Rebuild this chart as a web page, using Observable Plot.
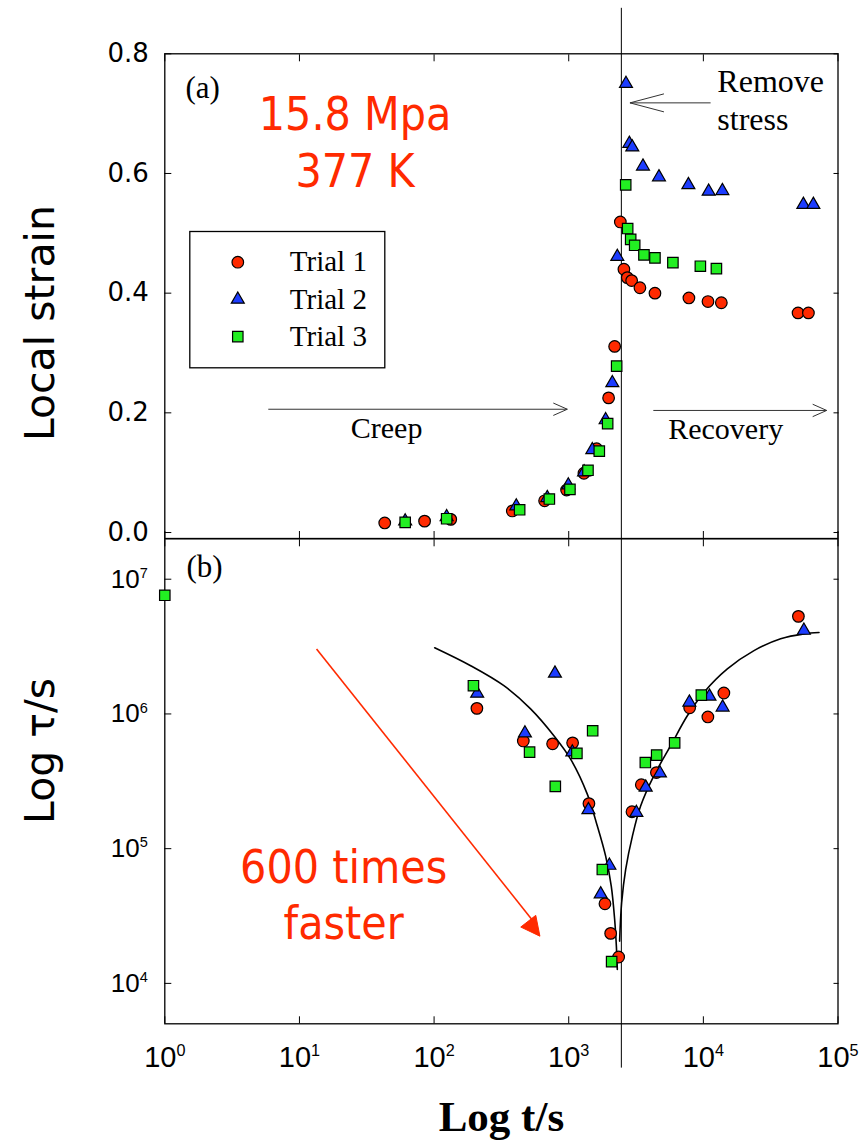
<!DOCTYPE html>
<html><head><meta charset="utf-8">
<script src="https://cdn.jsdelivr.net/npm/d3@7"></script>
<script src="https://cdn.jsdelivr.net/npm/@observablehq/plot@0.6"></script>
<style>
html,body{margin:0;padding:0;background:#fff;}
#chart{position:relative;width:863px;height:1142px;overflow:hidden;background:#fff;}
#chart svg{position:absolute;left:0;overflow:visible;}
</style></head><body><div id="chart"></div>
<script>
// ---------- data ----------
const xTicks = [1, 10, 100, 1000, 10000, 100000];
const strainTicks = [0, 0.2, 0.4, 0.6, 0.8];
const tauTicks = [1e4, 1e5, 1e6, 1e7];
const seriesNames = ["Trial 1", "Trial 2", "Trial 3"];
const removeStressT = 2460;

// (a) local strain vs time
const t1StrainTime = [43, 85, 133, 381, 662, 964, 1297, 1611, 1978, 2193, 2417, 2570, 2723, 2933, 3380, 4370, 7810, 10820, 13600, 50500, 60300];
const t1Strain     = [0.016, 0.019, 0.022, 0.036, 0.053, 0.071, 0.099, 0.140, 0.225, 0.311, 0.519, 0.440, 0.426, 0.421, 0.409, 0.400, 0.392, 0.386, 0.384, 0.367, 0.367];
const t2StrainTime = [61, 124, 408, 693, 993, 1300, 1497, 1880, 2108, 2296, 2663, 2820, 2966, 3560, 4680, 7740, 10950, 13840, 55300, 65600];
const t2Strain     = [0.019, 0.026, 0.044, 0.058, 0.079, 0.101, 0.138, 0.188, 0.250, 0.461, 0.750, 0.650, 0.644, 0.612, 0.594, 0.581, 0.570, 0.571, 0.548, 0.548];
const t3StrainTime = [61, 124, 432, 718, 1021, 1390, 1687, 1946, 2270, 2650, 2740, 2885, 3090, 3620, 4370, 5940, 9500, 12500];
const t3Strain     = [0.017, 0.023, 0.038, 0.056, 0.072, 0.104, 0.136, 0.182, 0.278, 0.581, 0.508, 0.490, 0.480, 0.464, 0.459, 0.451, 0.445, 0.441];

// (b) relaxation time vs time
const t1TauTime = [208, 460, 759, 1069, 1413, 1858, 2049, 2349, 2950, 3460, 4480, 7910, 10800, 14200, 50800];
const t1Tau     = [1.10e6, 6.3e5, 6.0e5, 6.1e5, 2.16e5, 3.9e4, 2.35e4, 1.57e4, 1.88e5, 2.98e5, 3.67e5, 1.11e6, 9.5e5, 1.43e6, 5.3e6];
const t2TauTime = [209, 473, 790, 1064, 1400, 1727, 2005, 3180, 3730, 4760, 7870, 11100, 13900, 55800];
const t2Tau     = [1.42e6, 7.2e5, 2.0e6, 5.2e5, 1.94e5, 4.6e4, 7.5e4, 1.85e5, 2.85e5, 3.63e5, 1.22e6, 1.35e6, 1.12e6, 4.16e6];
const t3TauTime = [1, 196, 512, 795, 1150, 1506, 1777, 2083, 3707, 4500, 6120, 9660];
const t3Tau     = [7.6e6, 1.62e6, 5.2e5, 2.9e5, 5.1e5, 7.5e5, 7.0e4, 1.45e4, 4.36e5, 4.95e5, 6.1e5, 1.38e6];

// fitted curves
const fitLeftTime  = [101, 187, 330, 521, 776, 1033, 1374, 1629, 1879, 2070, 2193, 2259, 2296];
const fitLeftTau   = [3.10e6, 2.28e6, 1.62e6, 1.09e6, 6.89e5, 4.62e5, 2.54e5, 1.48e5, 8.83e4, 5.28e4, 2.99e4, 1.89e4, 1.27e4];
const fitRightTime = [2388, 2472, 2649, 2972, 3420, 4295, 5715, 7603, 10090, 15070, 23770, 37500, 55850, 72280];
const fitRightTau  = [2.06e4, 3.97e4, 7.03e4, 1.24e5, 2.07e5, 3.48e5, 5.81e5, 9.70e5, 1.445e6, 2.16e6, 2.95e6, 3.61e6, 3.93e6, 4.02e6];

// ---------- helpers ----------
const rows = (t, v) => t.map((d, i) => ({t: d, v: v[i]}));
const RED = "#ff2a00", BLUE = "#1c3cff", GREEN = "#22ee22";
const styles = [
  {symbol: "circle", fill: RED, r: 5.8},
  {symbol: "triangle", fill: BLUE, r: 4.8},
  {symbol: "square", fill: GREEN, r: 5.9}
];
const SERIF = "'Liberation Serif', 'Times New Roman', serif";
const SANS = "'DejaVu Sans', Verdana, sans-serif";
const CSANS = "'DejaVu Sans Condensed', 'DejaVu Sans', sans-serif";
const ARIAL = "'Liberation Sans', Arial, sans-serif";
const SUP = "⁰¹²³⁴⁵⁶⁷⁸⁹";
const pow10 = d => "10" + String(Math.round(Math.log10(d))).split("").map(c => SUP[+c]).join("");
function head(angleDeg, len, half, closed) {
  const a = angleDeg * Math.PI / 180, ux = Math.cos(a), uy = Math.sin(a), px = -uy, py = ux;
  return {draw(ctx) {
    const bx = -ux * len, by = -uy * len;
    ctx.moveTo(bx + px * half, by + py * half);
    ctx.lineTo(0, 0);
    ctx.lineTo(bx - px * half, by - py * half);
    if (closed) ctx.closePath();
  }};
}
const dotOpts = i => ({x: "t", y: "v", ...styles[i], stroke: "#000", strokeWidth: 1.2});
// render "10⁷"-style tick labels as 10 + raised exponent tspan
function supify(svg) {
  d3.select(svg).selectAll("text").each(function () {
    const m = /^10([⁰¹²³⁴⁵⁶⁷⁸⁹]+)$/.exec(this.textContent);
    if (!m) return;
    const exp = m[1].split("").map(c => SUP.indexOf(c)).join("");
    const sel = d3.select(this);
    sel.text(null);
    sel.append("tspan").text("10");
    sel.append("tspan").attr("font-size", "0.56em").attr("dy", "-0.66em").text(exp);
  });
}

// ---------- panel (a) ----------
const W = 863, ML = 164.3, MR = 25.5;
const topPlot = Plot.plot({
  width: W, height: 538,
  marginTop: 53.3, marginBottom: 0, marginLeft: ML, marginRight: MR,
  x: {type: "log", domain: [1, 1e5]},
  y: {type: "linear", domain: [-0.01, 0.8]},
  style: {fontFamily: SANS, fontSize: "26px", color: "#000", background: "transparent", overflow: "visible"},
  marks: [
    Plot.ruleX([removeStressT], {y1: -0.01, y2: 0.876, stroke: "#000", strokeWidth: 1}),
    Plot.frame({stroke: "#000", strokeWidth: 1.3}),
    Plot.axisY({ticks: strainTicks, tickSize: -7, tickPadding: 23, tickFormat: d3.format(".1f"), label: null, fontSize: 26, fontFamily: SANS}),
    Plot.axisY({anchor: "right", ticks: strainTicks, tickSize: -5, tickFormat: () => "", label: null}),
    Plot.axisX({anchor: "top", ticks: xTicks, tickSize: -7, tickFormat: () => "", label: null}),
    Plot.axisX({anchor: "bottom", ticks: xTicks, tickSize: -7, tickFormat: () => "", label: null}),
    // creep / recovery / remove-stress arrows
    Plot.link({length: 1}, {x1: 5.87, x2: 976, y1: 0.206, y2: 0.206, stroke: "#333", strokeWidth: 1}),
    Plot.dot({length: 1}, {x: 976, y: 0.206, symbol: head(0, 14, 6.2, false), fill: "none", stroke: "#333", strokeWidth: 1}),
    Plot.link({length: 1}, {x1: 4250, x2: 82400, y1: 0.204, y2: 0.204, stroke: "#333", strokeWidth: 1}),
    Plot.dot({length: 1}, {x: 82400, y: 0.204, symbol: head(0, 14, 6.2, false), fill: "none", stroke: "#333", strokeWidth: 1}),
    Plot.link({length: 1}, {x1: 11320, x2: 2850, y1: 0.718, y2: 0.718, stroke: "#333", strokeWidth: 1}),
    Plot.dot({length: 1}, {x: 2850, y: 0.718, symbol: head(180, 34, 9, false), fill: "none", stroke: "#333", strokeWidth: 1}),
    // texts
    Plot.text(["(a)"], {x: 1.425, y: 0.726, text: d => d, textAnchor: "start", lineAnchor: "bottom", fontFamily: SERIF, fontSize: 31}),
    Plot.text(["15.8 Mpa"], {x: 25.9, y: 0.672, text: d => d, lineAnchor: "bottom", fill: RED, fontFamily: CSANS, fontSize: 46}),
    Plot.text(["377 K"], {x: 25.9, y: 0.577, text: d => d, lineAnchor: "bottom", fill: RED, fontFamily: CSANS, fontSize: 46}),
    Plot.text(["Remove"], {x: 12700, y: 0.736, text: d => d, textAnchor: "start", lineAnchor: "bottom", fontFamily: SERIF, fontSize: 32}),
    Plot.text(["stress"], {x: 12700, y: 0.672, text: d => d, textAnchor: "start", lineAnchor: "bottom", fontFamily: SERIF, fontSize: 32}),
    Plot.text(["Creep"], {x: 44.4, y: 0.1575, text: d => d, lineAnchor: "bottom", fontFamily: SERIF, fontSize: 30}),
    Plot.text(["Recovery"], {x: 14650, y: 0.1558, text: d => d, lineAnchor: "bottom", fontFamily: SERIF, fontSize: 30}),
    Plot.text(["Local strain"], {frameAnchor: "left", y: 0.35, dx: -111.3, rotate: -90, text: d => d, textAnchor: "middle", lineAnchor: "bottom", fontFamily: SANS, fontSize: 41}),
    // legend
    Plot.frame({insetLeft: 25, insetTop: 177.7, insetRight: 453.2, insetBottom: 170.7, stroke: "#000", strokeWidth: 1.3}),
    ...seriesNames.flatMap((name, i) => [
      Plot.dot({length: 1}, {frameAnchor: "top-left", dx: 73, dy: 208.4 + i * 37.2, ...styles[i], stroke: "#000", strokeWidth: 1.2}),
      Plot.text([name], {frameAnchor: "top-left", dx: 125, dy: 208.4 + i * 37.2, text: d => d, textAnchor: "start", lineAnchor: "middle", fontFamily: SERIF, fontSize: 29})
    ]),
    // data
    Plot.dot(rows(t1StrainTime, t1Strain), dotOpts(0)),
    Plot.dot(rows(t2StrainTime, t2Strain), dotOpts(1)),
    Plot.dot(rows(t3StrainTime, t3Strain), dotOpts(2))
  ]
});

// ---------- panel (b) ----------
const botPlot = Plot.plot({
  width: W, height: 604,
  marginTop: 0.3, marginBottom: 118.7, marginLeft: ML, marginRight: MR,
  x: {type: "log", domain: [1, 1e5]},
  y: {type: "log", domain: [10 ** 3.7, 10 ** 7.3]},
  style: {fontFamily: ARIAL, fontSize: "26px", color: "#000", background: "transparent", overflow: "visible"},
  marks: [
    Plot.ruleX([removeStressT], {y1: 2350, y2: 10 ** 7.3, stroke: "#000", strokeWidth: 1}),
    Plot.frame({stroke: "#000", strokeWidth: 1.3}),
    Plot.axisY({ticks: tauTicks, tickSize: -7, tickPadding: 24, tickFormat: pow10, label: null, fontSize: 26, fontFamily: ARIAL}),
    Plot.axisY({anchor: "right", ticks: tauTicks, tickSize: -5, tickFormat: () => "", label: null}),
    Plot.axisX({anchor: "bottom", ticks: xTicks, tickSize: -7, tickPadding: 29.8, tickFormat: pow10, label: null, fontSize: 29, fontFamily: ARIAL}),
    Plot.axisX({anchor: "top", ticks: xTicks, tickSize: -7, tickFormat: () => "", label: null}),
    Plot.line(rows(fitLeftTime, fitLeftTau), {x: "t", y: "v", curve: "catmull-rom", stroke: "#000", strokeWidth: 1.6}),
    Plot.line(rows(fitRightTime, fitRightTau), {x: "t", y: "v", curve: "catmull-rom", stroke: "#000", strokeWidth: 1.6}),
    // red arrow
    Plot.link({length: 1}, {x1: 13.4, y1: 3.04e6, x2: 560, y2: 28000, stroke: RED, strokeWidth: 1.6}),
    Plot.dot({length: 1}, {x: 611, y: 22400, symbol: head(52.15, 19, 9.5, true), fill: RED, stroke: RED, strokeWidth: 1}),
    // texts
    Plot.text(["(b)"], {x: 1.45, y: 1.03e7, text: d => d, textAnchor: "start", lineAnchor: "bottom", fontFamily: SERIF, fontSize: 31}),
    Plot.text(["600 times"], {x: 21.3, y: 55800, text: d => d, lineAnchor: "bottom", fill: RED, fontFamily: CSANS, fontSize: 46}),
    Plot.text(["faster"], {x: 21.3, y: 21200, text: d => d, lineAnchor: "bottom", fill: RED, fontFamily: CSANS, fontSize: 46}),
    Plot.text(["Log t/s"], {frameAnchor: "bottom", dy: 106.7, text: d => d, lineAnchor: "bottom", fontFamily: SERIF, fontWeight: "bold", fontSize: 43}),
    Plot.text(["Log τ/s"], {frameAnchor: "left", y: 5.32e5, dx: -111.3, rotate: -90, text: d => d, textAnchor: "middle", lineAnchor: "bottom", fontFamily: SANS, fontSize: 41}),
    // data
    Plot.dot(rows(t1TauTime, t1Tau), dotOpts(0)),
    Plot.dot(rows(t2TauTime, t2Tau), dotOpts(1)),
    Plot.dot(rows(t3TauTime, t3Tau), dotOpts(2))
  ]
});
supify(botPlot);

const chart = document.getElementById("chart");
topPlot.style.top = "0px";
botPlot.style.top = "538px";
chart.appendChild(botPlot);
chart.appendChild(topPlot);
</script>
</body></html>
